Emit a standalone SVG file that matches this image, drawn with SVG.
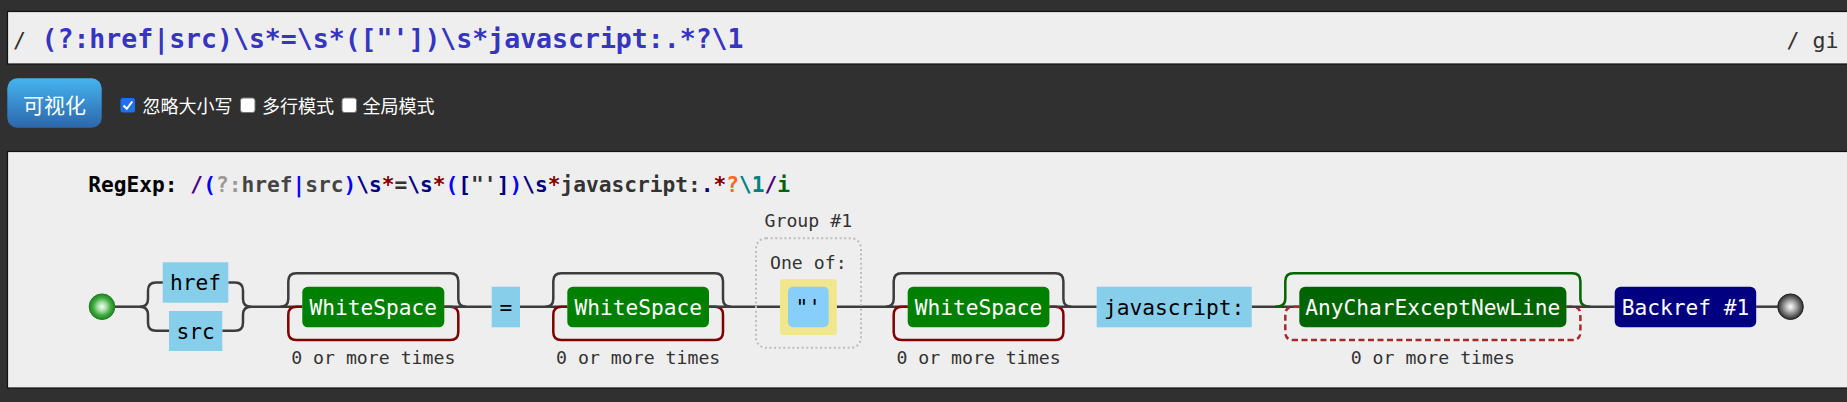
<svg xmlns="http://www.w3.org/2000/svg" width="1847" height="402" viewBox="0 0 1847 402">
<style>
.mono{font-family:"DejaVu Sans Mono","Liberation Mono",monospace}
.cjk{font-family:"Noto Sans CJK SC","Noto Sans",sans-serif}
.nt{font-family:"DejaVu Sans Mono","Liberation Mono",monospace;font-size:21.2px;text-anchor:middle}
.lbl{font-family:"DejaVu Sans Mono","Liberation Mono",monospace;font-size:18.2px;fill:#333;text-anchor:middle}
.line{fill:none;stroke:#3c3c3c;stroke-width:2.5}
.loop{fill:none;stroke:#800000;stroke-width:2.5}
.ngloop{fill:none;stroke:#a52a2a;stroke-width:2.5;stroke-dasharray:6 3.5}
.ngskip{fill:none;stroke:#006400;stroke-width:2.5}
.exact{fill:#87ceeb}
.cb{fill:#fff;stroke:#767676;stroke-width:1}
</style>
<defs>
<linearGradient id="btn" x1="0" y1="0" x2="0" y2="1">
<stop offset="0" stop-color="#45b4ef"/>
<stop offset="1" stop-color="#2c66ab"/>
</linearGradient>
<radialGradient id="gStart" cx="0.5" cy="0.5" r="0.5">
<stop offset="0" stop-color="#f4fff4"/>
<stop offset="0.35" stop-color="#a6dca6"/>
<stop offset="0.7" stop-color="#3fa83f"/>
<stop offset="1" stop-color="#1f871f"/>
</radialGradient>
<radialGradient id="gEnd" cx="0.5" cy="0.5" r="0.5">
<stop offset="0" stop-color="#ffffff"/>
<stop offset="0.4" stop-color="#b0b0b0"/>
<stop offset="1" stop-color="#2a2a2a"/>
</radialGradient>
</defs>
<rect x="0" y="0" width="1847" height="402" fill="#303030"/>

<g id="input">
<rect x="7.5" y="11.5" width="1850" height="52.5" fill="#eeeeee" stroke="#111" stroke-width="1.2"/>
<text class="mono" x="13" y="48" font-size="21.6" fill="#333">/</text>
<text class="mono" x="41.5" y="48" font-size="26.5" font-weight="bold" fill="#3535c0">(?:href|src)\s*=\s*(["'])\s*javascript:.*?\1</text>
<text class="mono" x="1838.5" y="48" font-size="21.6" fill="#333" text-anchor="end">/ gi</text>
</g>

<g id="controls">
<rect x="7.3" y="78.3" width="94.4" height="49.4" rx="10" fill="url(#btn)"/>
<text class="cjk" x="54.5" y="113" font-size="21" fill="#fff" text-anchor="middle">可视化</text>
<rect x="120.5" y="98" width="14.5" height="14.5" rx="2.5" fill="#1a73e8"/>
<path d="M123.5,105.5 L126.8,108.8 L132.3,101.5" fill="none" stroke="#fff" stroke-width="2"/>
<text class="cjk" x="142.5" y="112.5" font-size="18" fill="#fff">忽略大小写</text>
<rect class="cb" x="240.5" y="98" width="14.5" height="14.5" rx="2.5"/>
<text class="cjk" x="262" y="112.5" font-size="18" fill="#fff">多行模式</text>
<rect class="cb" x="342" y="98" width="14.5" height="14.5" rx="2.5"/>
<text class="cjk" x="362.5" y="112.5" font-size="18" fill="#fff">全局模式</text>
</g>

<g id="panel">
<rect x="7.5" y="151.5" width="1850" height="236.5" fill="#eeeeee" stroke="#111" stroke-width="1.2"/>
<text class="mono" x="88.3" y="191.7" font-size="21.2" font-weight="bold" xml:space="preserve"><tspan fill="#000">RegExp: </tspan><tspan fill="#4b0082">/</tspan><tspan fill="#0000ff">(</tspan><tspan fill="#999">?:</tspan><tspan fill="#444">href</tspan><tspan fill="#0000ff">|</tspan><tspan fill="#444">src</tspan><tspan fill="#0000ff">)</tspan><tspan fill="#000080">\s</tspan><tspan fill="#800000">*</tspan><tspan fill="#333">=</tspan><tspan fill="#000080">\s</tspan><tspan fill="#800000">*</tspan><tspan fill="#0000ff">(</tspan><tspan fill="#000080">[</tspan><tspan fill="#333">"'</tspan><tspan fill="#000080">]</tspan><tspan fill="#0000ff">)</tspan><tspan fill="#000080">\s</tspan><tspan fill="#800000">*</tspan><tspan fill="#333">javascript:</tspan><tspan fill="#000080">.</tspan><tspan fill="#800000">*</tspan><tspan fill="#ff6622">?</tspan><tspan fill="#008080">\1</tspan><tspan fill="#4b0082">/</tspan><tspan fill="#006400">i</tspan></text>
</g>

<g id="connectors">
<path class="line" d="M115,306.7 H140"/>
<path class="line" d="M140,306.7 Q148,306.7 148,298.7 V290.5 Q148,282.5 156,282.5 H163"/>
<path class="line" d="M140,306.7 Q148,306.7 148,314.7 V322.8 Q148,330.8 156,330.8 H169"/>
<path class="line" d="M228.3,282.5 H235 Q243,282.5 243,290.5 V298.7 Q243,306.7 251,306.7"/>
<path class="line" d="M222.3,330.8 H235 Q243,330.8 243,322.8 V314.7 Q243,306.7 251,306.7"/>
<path class="line" d="M251,306.7 H302.3"/>
<path class="loop" d="M444.3,306.7 H450.3 Q458.3,306.7 458.3,314.7 V332 Q458.3,340 450.3,340 H296.3 Q288.3,340 288.3,332 V314.7 Q288.3,306.7 296.3,306.7 H302.3"/>
<path class="line" d="M280.3,306.7 Q288.3,306.7 288.3,298.7 V281.3 Q288.3,273.3 296.3,273.3 H450.3 Q458.3,273.3 458.3,281.3 V298.7 Q458.3,306.7 466.3,306.7"/>
<path class="line" d="M444.3,306.7 H491.7"/>
<path class="line" d="M520,306.7 H567.3"/>
<path class="loop" d="M709,306.7 H715 Q723,306.7 723,314.7 V332 Q723,340 715,340 H561.3 Q553.3,340 553.3,332 V314.7 Q553.3,306.7 561.3,306.7 H567.3"/>
<path class="line" d="M545.3,306.7 Q553.3,306.7 553.3,298.7 V281.3 Q553.3,273.3 561.3,273.3 H715 Q723,273.3 723,281.3 V298.7 Q723,306.7 731,306.7"/>
<path class="line" d="M709,306.7 H780"/>
<path class="line" d="M836.7,306.7 H907.7"/>
<path class="loop" d="M1049.4,306.7 H1055.4 Q1063.4,306.7 1063.4,314.7 V332 Q1063.4,340 1055.4,340 H901.7 Q893.7,340 893.7,332 V314.7 Q893.7,306.7 901.7,306.7 H907.7"/>
<path class="line" d="M885.7,306.7 Q893.7,306.7 893.7,298.7 V281.3 Q893.7,273.3 901.7,273.3 H1055.4 Q1063.4,273.3 1063.4,281.3 V298.7 Q1063.4,306.7 1071.4,306.7"/>
<path class="line" d="M1049.4,306.7 H1096.7"/>
<path class="line" d="M1251.7,306.7 H1299.3"/>
<path class="ngloop" d="M1566.4,306.7 H1572.4 Q1580.4,306.7 1580.4,314.7 V332 Q1580.4,340 1572.4,340 H1293.3 Q1285.3,340 1285.3,332 V314.7 Q1285.3,306.7 1293.3,306.7 H1299.3"/>
<path class="ngskip" d="M1275.3,306.7 Q1285.3,306.7 1285.3,298.7 V281.3 Q1285.3,273.3 1293.3,273.3 H1572.4 Q1580.4,273.3 1580.4,281.3 V298.7 Q1580.4,306.7 1590.4,306.7"/>
<path class="line" d="M1566.4,306.7 H1614.7"/>
<path class="line" d="M1756.2,306.7 H1777.7"/>
</g>

<g id="start">
<circle cx="102" cy="306.7" r="12.8" fill="url(#gStart)" stroke="#1f7a1f" stroke-width="1"/>
</g>
<g id="n-href">
<rect class="exact" x="162.7" y="262.3" width="65.6" height="40.4"/>
<text class="nt" x="195.5" y="290" fill="#000">href</text>
</g>
<g id="n-src">
<rect class="exact" x="169" y="311" width="53.3" height="40"/>
<text class="nt" x="195.6" y="338.5" fill="#000">src</text>
</g>
<g id="n-ws1">
<rect x="302.3" y="286.7" width="142" height="40.6" rx="5.5" fill="#008000"/>
<text class="nt" x="373.3" y="314.5" fill="#fff">WhiteSpace</text>
<text class="lbl" x="373.3" y="363.5">0 or more times</text>
</g>
<g id="n-eq">
<rect class="exact" x="491.7" y="286.7" width="28.3" height="40.6"/>
<text class="nt" x="505.8" y="314.5" fill="#000">=</text>
</g>
<g id="n-ws2">
<rect x="567.3" y="286.7" width="141.7" height="40.6" rx="5.5" fill="#008000"/>
<text class="nt" x="638.2" y="314.5" fill="#fff">WhiteSpace</text>
<text class="lbl" x="638.2" y="363.5">0 or more times</text>
</g>
<g id="n-group1">
<rect x="756" y="238.3" width="105" height="109.4" rx="10" fill="none" stroke="#bdbdbd" stroke-width="2" stroke-dasharray="2 2.6"/>
<text class="lbl" x="808.3" y="227">Group #1</text>
<text class="lbl" x="808.3" y="269">One of:</text>
<rect x="780" y="279" width="56.7" height="56" rx="3" fill="#f0e68c"/>
<rect x="788" y="286.7" width="40.7" height="40.6" rx="5" fill="#87cefa"/>
<text class="nt" x="808.3" y="314.5" fill="#000">"'</text>
</g>
<g id="n-ws3">
<rect x="907.7" y="286.7" width="141.7" height="40.6" rx="5.5" fill="#008000"/>
<text class="nt" x="978.5" y="314.5" fill="#fff">WhiteSpace</text>
<text class="lbl" x="978.5" y="363.5">0 or more times</text>
</g>
<g id="n-js">
<rect class="exact" x="1096.7" y="286.7" width="155" height="40.6"/>
<text class="nt" x="1174.2" y="314.5" fill="#000">javascript:</text>
</g>
<g id="n-any">
<rect x="1299.3" y="286.7" width="267.1" height="40.6" rx="6" fill="#006400"/>
<text class="nt" x="1432.8" y="314.5" fill="#fff">AnyCharExceptNewLine</text>
<text class="lbl" x="1432.8" y="363.5">0 or more times</text>
</g>
<g id="n-backref">
<rect x="1614.7" y="286.7" width="141.5" height="40.6" rx="6" fill="#000080"/>
<text class="nt" x="1685.5" y="314.5" fill="#fff">Backref #1</text>
</g>
<g id="end">
<circle cx="1790.5" cy="306.7" r="12.8" fill="url(#gEnd)" stroke="#222" stroke-width="1"/>
</g>
</svg>
